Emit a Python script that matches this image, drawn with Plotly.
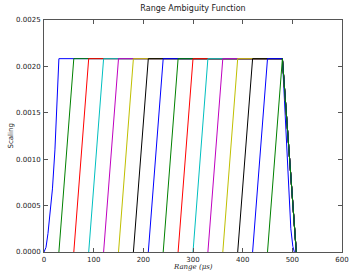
import plotly.graph_objects as go

# ---- data ----
starts = [0, 30, 60, 90, 120, 150, 180, 210, 240, 270, 300, 330, 360, 390, 420, 450]
rise_len = 30
plateau = 0.0020833
plateau_end = 480
fall_end = 508
# first pulse has rounded edges
first_x = [0, 4, 8, 12, 17, 22, 30, 480, 486, 492, 497, 501, 504]
first_y = [0, 0.00005, 0.0002, 0.0004, 0.00068, 0.0011, 0.0020833,
           0.0020833, 0.0014, 0.00066, 0.00025, 0.00006, 0]
colors = ["#0000ff", "#008000", "#ff0000", "#00bfbf", "#bf00bf", "#bfbf00", "#000000"]
x_ticks = [0, 100, 200, 300, 400, 500, 600]
y_ticks = [0, 0.0005, 0.0010, 0.0015, 0.0020, 0.0025]

fig = go.Figure()
for i, s in enumerate(starts):
    if i == 0:
        xs, ys = first_x, first_y
    else:
        xs = [s, s + rise_len, plateau_end, fall_end]
        ys = [0, plateau, plateau, 0]
    fig.add_trace(go.Scatter(x=xs, y=ys, mode="lines",
                             line=dict(color=colors[i % len(colors)], width=1),
                             showlegend=False, hoverinfo="skip", cliponaxis=True))

axis_common = dict(showgrid=False, zeroline=False, showline=True, mirror="allticks",
                   linecolor="#555555", linewidth=1, ticks="inside", ticklen=4,
                   tickcolor="#555555", automargin=False,
                   tickfont=dict(family="DejaVu Sans", size=7, color="#222222"))

fig.update_layout(
    width=351, height=271,
    margin=dict(l=44, r=9, t=20, b=19, pad=0),
    paper_bgcolor="white", plot_bgcolor="white",
    title=dict(text="Range Ambiguity Function", x=0.5, xref="paper", xanchor="center",
               y=0.97, yref="container", yanchor="middle",
               font=dict(family="DejaVu Sans", size=8, color="#222222")),
    xaxis=dict(range=[0, 600], tickvals=x_ticks, ticktext=[str(v) for v in x_ticks],
               ticklabelstandoff=1, **axis_common),
    yaxis=dict(range=[0, 0.0025], tickvals=y_ticks, ticktext=[f"{v:.4f}" for v in y_ticks],
               ticklabelstandoff=1, **axis_common),
    annotations=[
        dict(text="<i>Range (μs)</i>", xref="paper", yref="paper", x=0.5, y=0,
             xanchor="center", yanchor="middle", yshift=-15, showarrow=False,
             font=dict(family="DejaVu Serif", size=7, color="#222222")),
        dict(text="Scaling", xref="paper", yref="paper", x=0, y=0.5, textangle=-90,
             xanchor="center", yanchor="middle", xshift=-33.5, showarrow=False,
             font=dict(family="DejaVu Sans", size=7, color="#222222")),
    ],
)

fig.write_html("out.html", config={"displayModeBar": False, "staticPlot": True},
               post_script="document.body.style.margin='0';document.body.style.overflow='hidden';")
